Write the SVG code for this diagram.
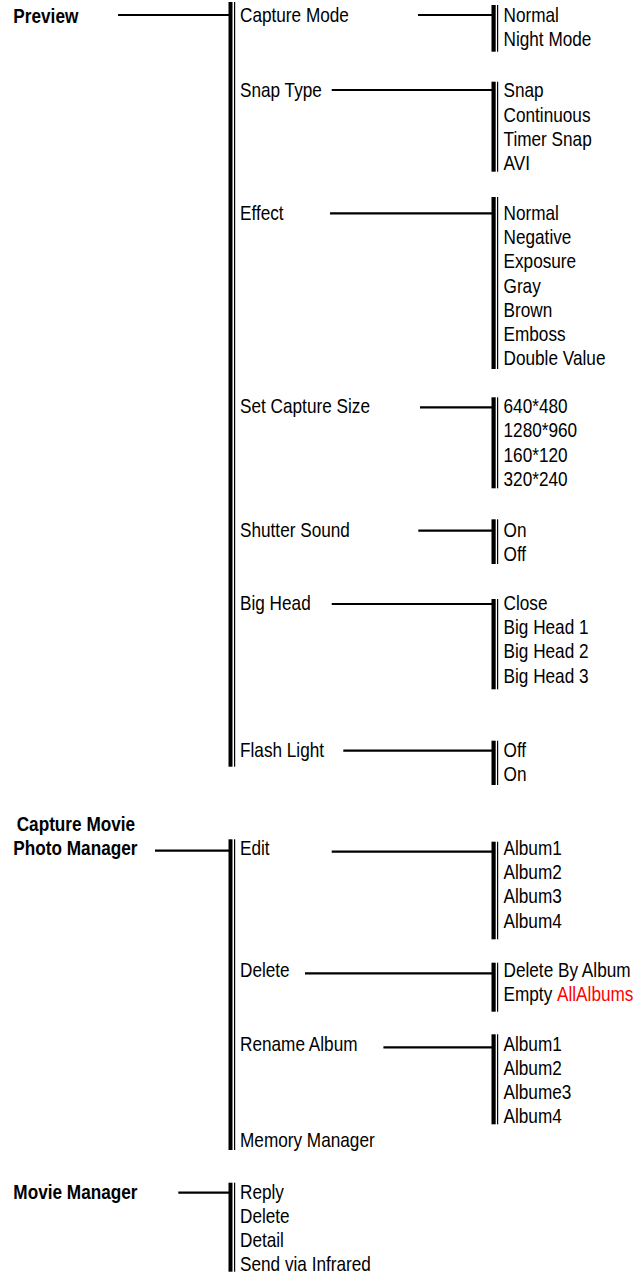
<svg xmlns="http://www.w3.org/2000/svg" width="638" height="1276" viewBox="0 0 638 1276">
<style>
text{font-family:"Liberation Sans",Arial,sans-serif;font-size:20px;fill:#000}
.b{font-weight:bold}
.ln{stroke:#000;stroke-width:2.2;fill:none}
.tk{fill:#000}
.red{fill:#ff0000}
</style>
<rect width="638" height="1276" fill="#fff"/>
<g id="connectors">
<!-- main bars -->
<rect class="tk" x="228.5" y="2" width="4" height="764.7"/><rect class="tk" x="234" y="2" width="1.2" height="764.7"/>
<rect class="tk" x="228.5" y="839.3" width="4" height="310.7"/><rect class="tk" x="234" y="839.3" width="1.2" height="310.7"/>
<rect class="tk" x="228.5" y="1182.7" width="4" height="89"/><rect class="tk" x="234" y="1182.7" width="1.2" height="89"/>
<!-- sub bars -->
<rect class="tk" x="491.5" y="5" width="4.2" height="46.7"/><rect class="tk" x="497" y="5" width="1.2" height="46.7"/>
<rect class="tk" x="491.5" y="81.7" width="4.2" height="90"/><rect class="tk" x="497" y="81.7" width="1.2" height="90"/>
<rect class="tk" x="491.5" y="197" width="4.2" height="172"/><rect class="tk" x="497" y="197" width="1.2" height="172"/>
<rect class="tk" x="491.5" y="397.3" width="4.2" height="91"/><rect class="tk" x="497" y="397.3" width="1.2" height="91"/>
<rect class="tk" x="491.5" y="519.3" width="4.2" height="44.7"/><rect class="tk" x="497" y="519.3" width="1.2" height="44.7"/>
<rect class="tk" x="491.5" y="599" width="4.2" height="90.3"/><rect class="tk" x="497" y="599" width="1.2" height="90.3"/>
<rect class="tk" x="491.5" y="740.7" width="4.2" height="44.3"/><rect class="tk" x="497" y="740.7" width="1.2" height="44.3"/>
<rect class="tk" x="491.5" y="841.7" width="4.2" height="97.6"/><rect class="tk" x="497" y="841.7" width="1.2" height="97.6"/>
<rect class="tk" x="491.5" y="962.7" width="4.2" height="49"/><rect class="tk" x="497" y="962.7" width="1.2" height="49"/>
<rect class="tk" x="491.5" y="1034.3" width="4.2" height="90"/><rect class="tk" x="497" y="1034.3" width="1.2" height="90"/>
<!-- horizontal connectors -->
<line class="ln" x1="118" y1="15" x2="229" y2="15"/>
<line class="ln" x1="418" y1="15" x2="492" y2="15"/>
<line class="ln" x1="331.7" y1="90" x2="492" y2="90"/>
<line class="ln" x1="330" y1="213.3" x2="492" y2="213.3"/>
<line class="ln" x1="420" y1="407.3" x2="492" y2="407.3"/>
<line class="ln" x1="418.3" y1="530.7" x2="492" y2="530.7"/>
<line class="ln" x1="331.7" y1="604" x2="492" y2="604"/>
<line class="ln" x1="343.3" y1="750.7" x2="492" y2="750.7"/>
<line class="ln" x1="155" y1="850.7" x2="229" y2="850.7"/>
<line class="ln" x1="331.7" y1="851.7" x2="492" y2="851.7"/>
<line class="ln" x1="305" y1="973.3" x2="492" y2="973.3"/>
<line class="ln" x1="383.4" y1="1047.3" x2="492" y2="1047.3"/>
<line class="ln" x1="178.3" y1="1192.7" x2="229" y2="1192.7"/>
</g>
<g transform="scale(0.86 1)">
<g id="preview"><text class="b" x="15.5" y="23.3">Preview</text></g>
<g id="capture-mode"><text x="279.07" y="22.5">Capture Mode</text></g>
<g id="capture-mode-options"><text x="585.5" y="22.5">Normal</text><text x="585.5" y="46.5">Night Mode</text></g>
<g id="snap-type"><text x="279.07" y="97.5">Snap Type</text></g>
<g id="snap-type-options"><text x="585.5" y="97.5">Snap</text><text x="585.5" y="121.7">Continuous</text><text x="585.5" y="145.9">Timer Snap</text><text x="585.5" y="170">AVI</text></g>
<g id="effect"><text x="279.07" y="220">Effect</text></g>
<g id="effect-options"><text x="585.5" y="220">Normal</text><text x="585.5" y="244.2">Negative</text><text x="585.5" y="268.4">Exposure</text><text x="585.5" y="292.6">Gray</text><text x="585.5" y="316.8">Brown</text><text x="585.5" y="341">Emboss</text><text x="585.5" y="365.2">Double Value</text></g>
<g id="set-capture-size"><text x="279.07" y="413.3">Set Capture Size</text></g>
<g id="capture-size-options"><text x="585.5" y="413.3">640*480</text><text x="585.5" y="437.5">1280*960</text><text x="585.5" y="461.7">160*120</text><text x="585.5" y="485.9">320*240</text></g>
<g id="shutter-sound"><text x="279.07" y="536.7">Shutter Sound</text></g>
<g id="shutter-sound-options"><text x="585.5" y="536.7">On</text><text x="585.5" y="560.9">Off</text></g>
<g id="big-head"><text x="279.07" y="610">Big Head</text></g>
<g id="big-head-options"><text x="585.5" y="610">Close</text><text x="585.5" y="634.2">Big Head 1</text><text x="585.5" y="658.4">Big Head 2</text><text x="585.5" y="682.6">Big Head 3</text></g>
<g id="flash-light"><text x="279.07" y="756.7">Flash Light</text></g>
<g id="flash-light-options"><text x="585.5" y="756.7">Off</text><text x="585.5" y="780.9">On</text></g>
<g id="photo-manager"><text class="b" x="19.4" y="830.7">Capture Movie</text><text class="b" x="15.5" y="855">Photo Manager</text></g>
<g id="edit"><text x="279.07" y="855">Edit</text></g>
<g id="edit-options"><text x="585.5" y="855">Album1</text><text x="585.5" y="879.2">Album2</text><text x="585.5" y="903.4">Album3</text><text x="585.5" y="927.6">Album4</text></g>
<g id="delete"><text x="279.07" y="977.3">Delete</text></g>
<g id="delete-options"><text x="585.5" y="977.3">Delete By Album</text><text x="585.5" y="1001.5">Empty <tspan class="red">AllAlbums</tspan></text></g>
<g id="rename-album"><text x="279.07" y="1050.7">Rename Album</text></g>
<g id="rename-album-options"><text x="585.5" y="1050.7">Album1</text><text x="585.5" y="1074.9">Album2</text><text x="585.5" y="1099.1">Albume3</text><text x="585.5" y="1123.3">Album4</text></g>
<g id="memory-manager"><text x="279.07" y="1147">Memory Manager</text></g>
<g id="movie-manager"><text class="b" x="15.5" y="1199">Movie Manager</text></g>
<g id="movie-manager-options"><text x="279.07" y="1199">Reply</text><text x="279.07" y="1223.2">Delete</text><text x="279.07" y="1247.4">Detail</text><text x="279.07" y="1271.4">Send via Infrared</text></g>
</g>
</svg>
